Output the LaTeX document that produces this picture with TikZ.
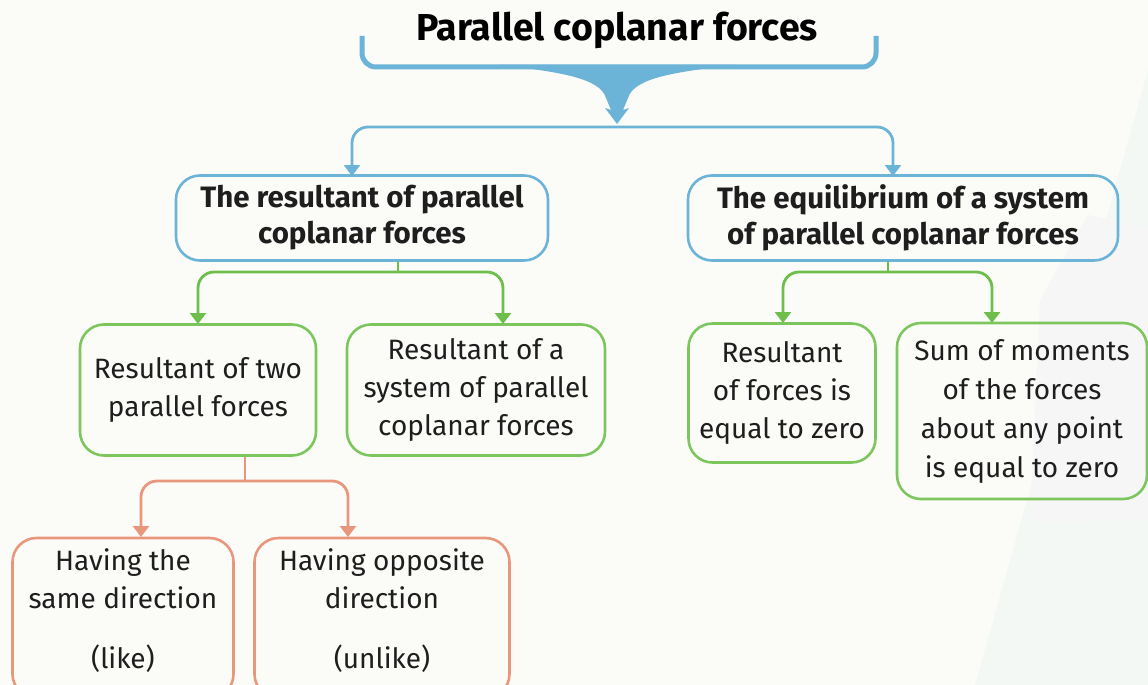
\documentclass[tikz,border=0pt]{standalone}
\usepackage{fontspec}
\setmainfont{Fira Sans}
\usetikzlibrary{arrows.meta}
\definecolor{bg}{HTML}{FBFCF8}
\definecolor{cblue}{HTML}{6BB4D8}
\definecolor{cgreen}{HTML}{6DBE4B}
\definecolor{cgreenb}{HTML}{7DC65E}
\definecolor{corange}{HTML}{E9977C}
\definecolor{txt}{HTML}{1E1E1E}
\tikzset{
  box/.style={draw, line width=2.6pt, rounded corners=24pt, inner sep=0pt,
    align=center, text=txt, font=\fontsize{28}{38}\selectfont},
  bluebox/.style={box, draw=cblue, font=\bfseries\fontsize{29.5}{36}\selectfont},
  greenbox/.style={box, draw=cgreenb},
  orangebox/.style={box, draw=corange},
  conn/.style={line width=2.8pt, rounded corners=16pt},
  tipb/.style={-{Triangle[width=16pt,length=11pt]}},
}
\begin{document}
\begin{tikzpicture}[x=1pt,y=-1pt]
\fill[bg] (0,0) rectangle (1148,685);
\useasboundingbox (0,0) rectangle (1148,685);
% faint background shapes
\fill[green!25!gray!7] (1148,70) -- (975,685) -- (1148,685) -- cycle;
\fill[gray!7] (1088,215) -- (1148,228) -- (1148,520) -- (1030,522) -- (1040,300) -- cycle;

% title
\node[font=\bfseries\fontsize{37.5}{40}\selectfont, text=black] (title) at (617,30) {Parallel coplanar forces};

% brace
\coordinate (bl) at (362,36);
\coordinate (br) at (876,36);
\draw[cblue, line width=5pt, rounded corners=14pt] (bl) -- (362,67) -- (876,67) -- (br);
\fill[cblue] (500,65) .. controls (560,72) and (600,78) .. (606,98)
  -- (611,110) -- (605,108) -- (617,124) -- (629,108) -- (623,110) -- (628,98)
  .. controls (634,78) and (674,72) .. (735,65) -- cycle;
\coordinate (bt) at (617,127);

% level 1 boxes
\node[bluebox, minimum width=372pt, minimum height=85pt] (r) at (362,218)
  {The resultant of parallel\\coplanar forces};
\node[bluebox, minimum width=430pt, minimum height=85pt] (e) at (903,218)
  {The equilibrium of a system\\of parallel coplanar forces};

\draw[cblue, conn, tipb] (bt) -| (352,176);
\draw[cblue, conn, tipb] (bt) -| (893,176);

% level 2 boxes
\node[greenbox, minimum width=236pt, minimum height=131pt] (a) at (198,390)
  {Resultant of two\\parallel forces};
\node[greenbox, minimum width=258pt, minimum height=131pt] (b) at (476,390)
  {Resultant of a\\system of parallel\\coplanar forces};
\node[greenbox, minimum width=187pt, minimum height=139pt] (c) at (782,393)
  {Resultant\\of forces is\\equal to zero};
\node[greenbox, minimum width=250pt, minimum height=176pt, font=\fontsize{28}{39}\selectfont] (d) at (1022,411)
  {Sum of moments\\of the forces\\about any point\\is equal to zero};

\coordinate (j1) at (398,272);
\draw[cgreen, conn] (r.south -| j1) -- (j1);
\draw[cgreen, conn, tipb] (j1) -| (198,324);
\draw[cgreen, conn, tipb] (j1) -| (503,324);
\coordinate (j2) at (888,272);
\draw[cgreen, conn] (e.south -| j2) -- (j2);
\draw[cgreen, conn, tipb] (j2) -| (783,323);
\draw[cgreen, conn, tipb] (j2) -| (992,323);

% level 3 boxes
\node[orangebox, minimum width=221pt, minimum height=160pt] (l) at (123,618)
  {Having the\\same direction\\[22pt](like)\\[-20pt]\mbox{}};
\node[orangebox, minimum width=255pt, minimum height=160pt] (u) at (382,618)
  {Having opposite\\direction\\[22pt](unlike)\\[-20pt]\mbox{}};

\coordinate (j3) at (245,481);
\draw[corange, conn] (a.south -| j3) -- (j3);
\draw[corange, conn, tipb] (j3) -| (141,537);
\draw[corange, conn, tipb] (j3) -| (348,537);
\end{tikzpicture}
\end{document}
